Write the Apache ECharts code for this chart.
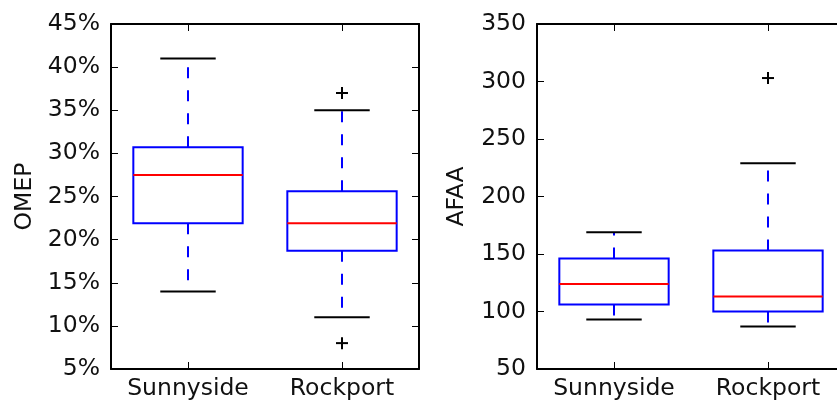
<!DOCTYPE html>
<html>
<head>
<meta charset="utf-8">
<script src="https://cdn.jsdelivr.net/npm/echarts@6/dist/echarts.min.js"></script>
<style>
  html, body { margin: 0; padding: 0; background: #fff; }
  #chart { width: 837px; height: 403px; }
</style>
</head>
<body>
<div id="chart"></div>
<script>
const categories = ['Sunnyside', 'Rockport'];
// each box: [min whisker, q1, median, q3, max whisker]
const omepBoxes = [[14, 21.9, 27.5, 30.7, 41], [11, 18.7, 21.9, 25.6, 35]];
const omepOutliers = [[1, 37], [1, 8]];
const afaaBoxes = [[93, 106, 124, 146, 169], [87, 100, 113, 153, 229]];
const afaaOutliers = [[1, 303]];
const omepRange = [5, 45, 5];
const afaaRange = [50, 350, 50];

const font = 'DejaVu Sans';
const fontSize = 23.5;
const textColor = '#111';

function renderBox(params, api) {
  const i = api.value(0);
  const band = api.size([1, 0])[0];
  const half = band * 0.355;
  const capHalf = band * 0.18;
  const pMin = api.coord([i, api.value(1)]);
  const pQ1 = api.coord([i, api.value(2)]);
  const pMed = api.coord([i, api.value(3)]);
  const pQ3 = api.coord([i, api.value(4)]);
  const pMax = api.coord([i, api.value(5)]);
  const x = pMed[0];
  const dash = { stroke: '#0000ff', lineWidth: 2, lineDash: [11, 12], fill: null };
  const solid = { stroke: '#000', lineWidth: 2 };
  return {
    type: 'group',
    children: [
      { type: 'line', shape: { x1: x, y1: pQ3[1], x2: x, y2: pMax[1] }, style: dash },
      { type: 'line', shape: { x1: x, y1: pQ1[1], x2: x, y2: pMin[1] }, style: dash },
      { type: 'line', shape: { x1: x - capHalf, y1: pMax[1], x2: x + capHalf, y2: pMax[1] }, style: solid },
      { type: 'line', shape: { x1: x - capHalf, y1: pMin[1], x2: x + capHalf, y2: pMin[1] }, style: solid },
      { type: 'rect', shape: { x: x - half, y: pQ3[1], width: half * 2, height: pQ1[1] - pQ3[1] },
        style: { fill: 'none', stroke: '#0000ff', lineWidth: 2 } },
      { type: 'line', shape: { x1: x - half, y1: pMed[1], x2: x + half, y2: pMed[1] },
        style: { stroke: '#ff0000', lineWidth: 2 } }
    ]
  };
}

function renderPlus(params, api) {
  const p = api.coord([api.value(0), api.value(1)]);
  const s = 6;
  const st = { stroke: '#000', lineWidth: 2 };
  return {
    type: 'group',
    children: [
      { type: 'line', shape: { x1: p[0] - s, y1: p[1], x2: p[0] + s, y2: p[1] }, style: st },
      { type: 'line', shape: { x1: p[0], y1: p[1] - s, x2: p[0], y2: p[1] + s }, style: st }
    ]
  };
}

function xAxes(grid) {
  const base = {
    type: 'category',
    gridIndex: grid,
    data: categories,
    axisLine: { show: true, lineStyle: { color: '#000', width: 2 } },
    axisTick: { show: true, inside: true, alignWithLabel: true, length: 7, lineStyle: { color: '#000', width: 1 } },
    splitLine: { show: false }
  };
  return [
    Object.assign({}, base, {
      position: 'bottom',
      axisLabel: { show: true, interval: 0, hideOverlap: false, color: textColor, fontFamily: font, fontSize: fontSize, margin: 8 }
    }),
    Object.assign({}, base, { position: 'top', axisLabel: { show: false } })
  ];
}

function yAxes(grid, range, name, nameGap, fmt) {
  const base = {
    type: 'value',
    gridIndex: grid,
    min: range[0],
    max: range[1],
    interval: range[2],
    axisLine: { show: true, lineStyle: { color: '#000', width: 2 } },
    axisTick: { show: true, inside: true, length: 7, lineStyle: { color: '#000', width: 1 } },
    splitLine: { show: false }
  };
  return [
    Object.assign({}, base, {
      position: 'left',
      name: name,
      nameLocation: 'middle',
      nameGap: nameGap,
      nameTextStyle: { color: textColor, fontFamily: font, fontSize: fontSize },
      axisLabel: { show: true, color: textColor, fontFamily: font, fontSize: fontSize, margin: 11, formatter: fmt }
    }),
    Object.assign({}, base, { position: 'right', axisLabel: { show: false } })
  ];
}

const chart = echarts.init(document.getElementById('chart'));
chart.setOption({
  animation: false,
  backgroundColor: '#fff',
  grid: [
    { left: 111, top: 24, width: 308, height: 345, outerBoundsMode: 'none' },
    { left: 537, top: 24, width: 308, height: 345, outerBoundsMode: 'none' }
  ],
  xAxis: xAxes(0).concat(xAxes(1)),
  yAxis: yAxes(0, omepRange, 'OMEP', 74, '{value}%').concat(yAxes(1, afaaRange, 'AFAA', 68, '{value}')),
  series: [
    {
      type: 'custom', xAxisIndex: 0, yAxisIndex: 0, renderItem: renderBox,
      encode: { x: 0, y: [1, 2, 3, 4, 5] },
      data: omepBoxes.map((b, i) => [i].concat(b))
    },
    {
      type: 'custom', xAxisIndex: 0, yAxisIndex: 0, renderItem: renderPlus,
      encode: { x: 0, y: 1 }, data: omepOutliers
    },
    {
      type: 'custom', xAxisIndex: 2, yAxisIndex: 2, renderItem: renderBox,
      encode: { x: 0, y: [1, 2, 3, 4, 5] },
      data: afaaBoxes.map((b, i) => [i].concat(b))
    },
    {
      type: 'custom', xAxisIndex: 2, yAxisIndex: 2, renderItem: renderPlus,
      encode: { x: 0, y: 1 }, data: afaaOutliers
    }
  ]
});
</script>
</body>
</html>
